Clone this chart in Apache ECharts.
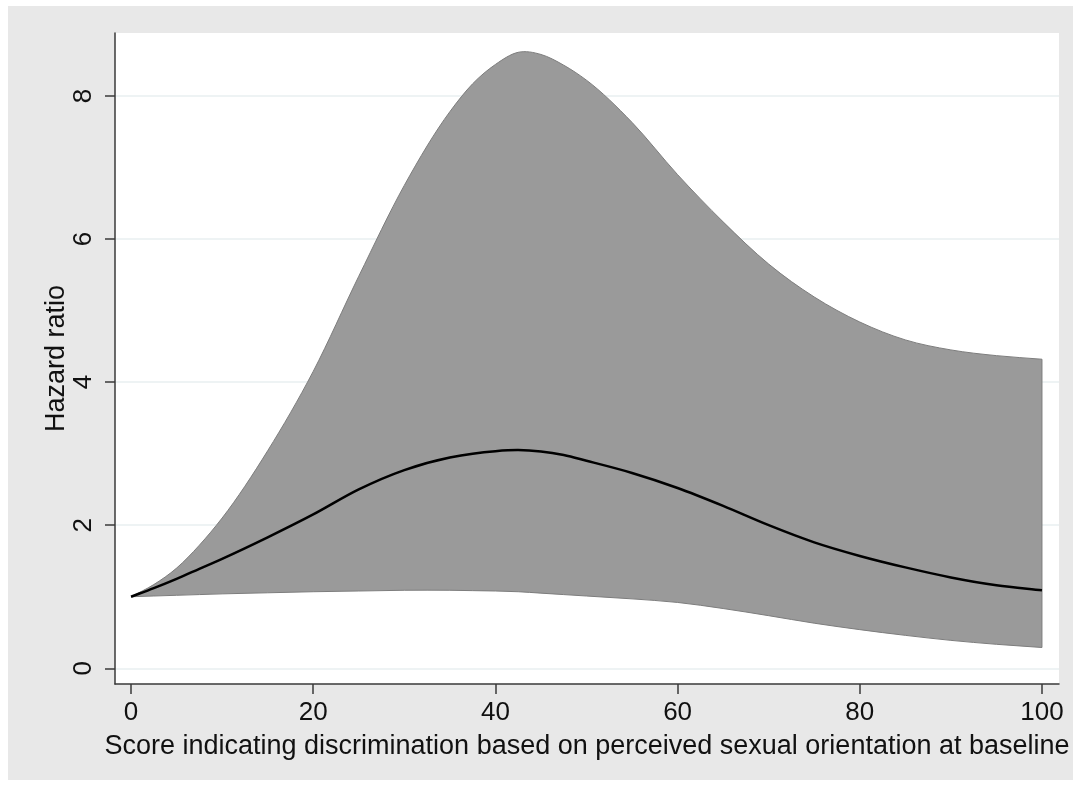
<!DOCTYPE html>
<html>
<head>
<meta charset="utf-8">
<script src="https://cdn.jsdelivr.net/npm/echarts@6/dist/echarts.min.js"></script>
<style>
html,body{margin:0;padding:0;background:#ffffff;}
#chart{width:1081px;height:787px;}
</style>
</head>
<body>
<div id="chart"></div>
<script>
// ---- data ----
const scoreValues = [0, 2.5, 5, 7.5, 10, 15, 20, 25, 30, 35, 37.5, 40, 42.5, 45, 47.5, 50, 55, 60, 65, 70, 75, 80, 85, 90, 95, 100];
const hazardRatio = [1.0, 1.12, 1.25, 1.39, 1.53, 1.83, 2.15, 2.50, 2.77, 2.945, 3.0, 3.035, 3.05, 3.03, 2.98, 2.90, 2.73, 2.52, 2.27, 2.00, 1.76, 1.57, 1.41, 1.27, 1.16, 1.09];
const lowerCI =     [1.0, 1.01, 1.02, 1.03, 1.04, 1.055, 1.07, 1.08, 1.09, 1.09, 1.085, 1.08, 1.07, 1.05, 1.03, 1.01, 0.97, 0.92, 0.835, 0.735, 0.63, 0.54, 0.46, 0.39, 0.335, 0.29];
const upperCI =     [1.0, 1.17, 1.40, 1.72, 2.10, 3.04, 4.15, 5.48, 6.75, 7.78, 8.17, 8.44, 8.61, 8.58, 8.43, 8.22, 7.63, 6.90, 6.24, 5.65, 5.19, 4.84, 4.59, 4.45, 4.37, 4.32];
const xTicks = [0, 20, 40, 60, 80, 100];
const yTicks = [0, 2, 4, 6, 8];
const xTitle = 'Score indicating discrimination based on perceived sexual orientation at baseline';
const yTitle = 'Hazard ratio';

const FONT = "'Liberation Sans', Arial, sans-serif";

// Cubic Hermite spline in data space (handles uneven x spacing);
// control points are mapped to pixels through the chart's own axes.
function hermiteSegments(xs, ys, api) {
  const n = xs.length, m = [];
  for (let i = 0; i < n; i++) {
    if (i === 0) m.push((ys[1] - ys[0]) / (xs[1] - xs[0]));
    else if (i === n - 1) m.push((ys[n - 1] - ys[n - 2]) / (xs[n - 1] - xs[n - 2]));
    else {
      const h0 = xs[i] - xs[i - 1], h1 = xs[i + 1] - xs[i];
      const d0 = (ys[i] - ys[i - 1]) / h0, d1 = (ys[i + 1] - ys[i]) / h1;
      m.push((d0 * h1 + d1 * h0) / (h0 + h1));
    }
  }
  const fmt = p => p[0].toFixed(2) + ',' + p[1].toFixed(2);
  let d = '';
  for (let i = 0; i < n - 1; i++) {
    const h = xs[i + 1] - xs[i];
    const c1 = api.coord([xs[i] + h / 3, ys[i] + m[i] * h / 3]);
    const c2 = api.coord([xs[i + 1] - h / 3, ys[i + 1] - m[i + 1] * h / 3]);
    const p2 = api.coord([xs[i + 1], ys[i + 1]]);
    d += ' C' + fmt(c1) + ' ' + fmt(c2) + ' ' + fmt(p2);
  }
  return d;
}

function renderBand(params, api) {
  const p0 = api.coord([scoreValues[0], upperCI[0]]);
  const last = scoreValues.length - 1;
  const pl = api.coord([scoreValues[last], lowerCI[last]]);
  const revX = scoreValues.slice().reverse(), revLo = lowerCI.slice().reverse();
  let d = 'M' + p0[0] + ',' + p0[1] + hermiteSegments(scoreValues, upperCI, api);
  d += ' L' + pl[0] + ',' + pl[1] + hermiteSegments(revX, revLo, api) + ' Z';
  return {
    type: 'path',
    shape: {pathData: d},
    style: {fill: '#9a9a9a', stroke: '#7d7d7d', lineWidth: 1}
  };
}

function renderLine(params, api) {
  const p0 = api.coord([scoreValues[0], hazardRatio[0]]);
  const d = 'M' + p0[0] + ',' + p0[1] + hermiteSegments(scoreValues, hazardRatio, api);
  return {
    type: 'path',
    shape: {pathData: d},
    style: {fill: null, stroke: '#000000', lineWidth: 2.5}
  };
}

const chart = echarts.init(document.getElementById('chart'), null, {renderer: 'canvas'});
const option = {
  animation: false,
  backgroundColor: '#ffffff',
  graphic: [{
    type: 'rect', z: -10, silent: true,
    shape: {x: 8, y: 6, width: 1065, height: 774},
    style: {fill: '#e8e8e8'}
  }],
  grid: {
    left: 115, right: 22, top: 33, bottom: 103,
    show: true, backgroundColor: '#ffffff', borderWidth: 0
  },
  xAxis: {
    type: 'value', min: -1.76, max: 101.87,
    axisLine: {show: true, onZero: false, lineStyle: {color: '#3a3a3a', width: 1.5}},
    axisTick: {show: true, length: 10, customValues: xTicks, lineStyle: {color: '#3a3a3a', width: 1.5}},
    axisLabel: {customValues: xTicks, color: '#111', fontFamily: FONT, fontSize: 26, margin: 16},
    splitLine: {show: false},
    name: xTitle, nameLocation: 'middle', nameGap: 49, nameMoveOverlap: false,
    nameTextStyle: {color: '#111', fontFamily: FONT, fontSize: 27}
  },
  yAxis: {
    type: 'value', min: -0.22, max: 8.88,
    axisLine: {show: true, onZero: false, lineStyle: {color: '#3a3a3a', width: 1.5}},
    axisTick: {show: true, length: 10, customValues: yTicks, lineStyle: {color: '#3a3a3a', width: 1.5}},
    axisLabel: {customValues: yTicks, rotate: 90, color: '#111', fontFamily: FONT, fontSize: 26, margin: 18},
    splitLine: {show: true, lineStyle: {color: '#e9eff1', width: 1.5}},
    name: yTitle, nameLocation: 'middle', nameGap: 45, nameRotate: 90, nameMoveOverlap: false,
    nameTextStyle: {color: '#111', fontFamily: FONT, fontSize: 27}
  },
  series: [
    {
      name: 'CI', type: 'custom', renderItem: renderBand,
      data: [[scoreValues[0], lowerCI[0]]], silent: true, z: 2
    },
    {
      name: 'HR', type: 'custom', renderItem: renderLine,
      data: [[scoreValues[0], hazardRatio[0]]], silent: true, z: 4
    }
  ]
};
chart.setOption(option);
</script>
</body>
</html>
